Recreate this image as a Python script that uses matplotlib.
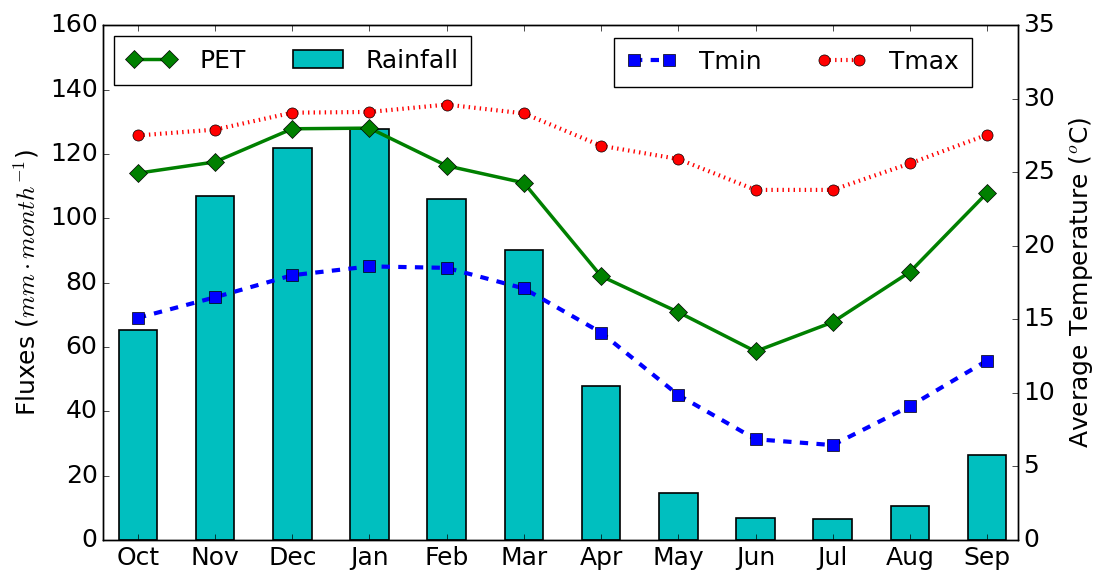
import numpy as np
import matplotlib.pyplot as plt

plt.style.use('classic')

months = ['Oct', 'Nov', 'Dec', 'Jan', 'Feb', 'Mar',
          'Apr', 'May', 'Jun', 'Jul', 'Aug', 'Sep']
rainfall = [65.3, 106.9, 121.9, 127.7, 105.9, 90.2, 47.7, 14.6, 6.9, 6.5, 10.7, 26.4]
pet = [114.0, 117.5, 127.8, 128.0, 116.3, 111.0, 82.0, 70.8, 58.6, 67.7, 83.3, 107.9]
tmin = [15.1, 16.5, 18.0, 18.6, 18.5, 17.1, 14.1, 9.85, 6.85, 6.45, 9.1, 12.2]
tmax = [27.5, 27.9, 29.05, 29.1, 29.6, 29.0, 26.8, 25.9, 23.8, 23.8, 25.6, 27.55]

x = np.arange(len(months))
fs = 18

fig = plt.figure(figsize=(10.97, 5.72), dpi=100, facecolor='white')
ax = fig.add_axes([0.094, 0.056, 0.834, 0.9])

ax.bar(x, rainfall, width=0.5, align='center', color='c', edgecolor='k',
       linewidth=1.2, label='Rainfall', zorder=2)
ax.plot(x, pet, color='green', marker='D', markersize=9, lw=2.5,
        mec='k', mew=0.5, label='PET', zorder=3)
ax.set_ylim(0, 160)
ax.set_xlim(-0.45, 11.4)
ax.set_xticks(x)
ax.set_xticklabels(months)
ax.set_ylabel(r'Fluxes ($mm \cdot month^{-1}$)', fontsize=fs, labelpad=6)
ax.tick_params(labelsize=fs)
ax.legend(loc='upper left', ncol=2, fontsize=fs, numpoints=2,
          handlelength=2.0, handletextpad=0.9, columnspacing=1.9,
          borderpad=0.5, borderaxespad=0.45)

ax2 = ax.twinx()
ax2.plot(x, tmin, color='b', ls='--', marker='s', markersize=8, lw=3,
         mec='k', mew=0.5, label='Tmin')
ax2.plot(x, tmax, color='r', ls=':', marker='o', markersize=8, lw=3,
         mec='k', mew=0.5, label='Tmax')
ax2.set_ylim(0, 35)
ax2.set_xlim(-0.45, 11.4)
ax2.set_ylabel(r'Average Temperature ($^o$C)', fontsize=fs, labelpad=8)
ax2.tick_params(labelsize=fs)
ax2.legend(loc='upper right', bbox_to_anchor=(0.963, 1.0), ncol=2,
           fontsize=fs, numpoints=2, handlelength=2.0, handletextpad=0.9,
           columnspacing=2.2, borderpad=0.5, borderaxespad=0.5)

fig.savefig('out.png', dpi=100, facecolor='white')
